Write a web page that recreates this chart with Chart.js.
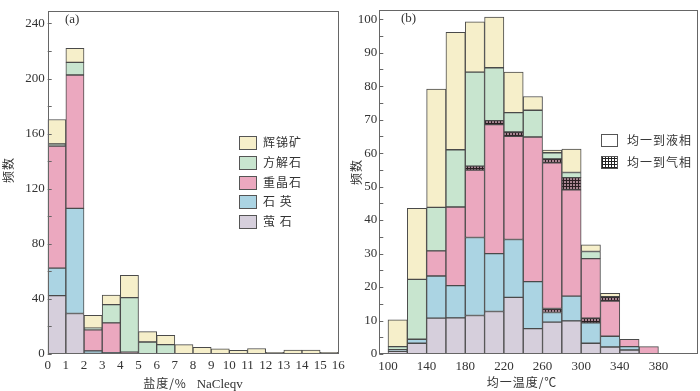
<!DOCTYPE html>
<html>
<head>
<meta charset="utf-8">
<script src="https://cdn.jsdelivr.net/npm/chart.js@4.4.1/dist/chart.umd.min.js"></script>
<style>
  html, body { margin: 0; padding: 0; background: #fff; }
  #wrap { position: relative; width: 700px; height: 391px; overflow: hidden;
          font-family: "Liberation Serif", "Noto Sans CJK SC", serif; color: #333; }
  .pane { position: absolute; top: 0; height: 391px; }
  .txt { position: absolute; white-space: nowrap; font-size: 13px; line-height: 1; }
  .cjk { font-family: "Noto Sans CJK SC", sans-serif; letter-spacing: 1px; font-size: 12px; }
  .box { position: absolute; border: 1px solid #555; box-sizing: border-box; }
  .vt { transform: translate(-50%, -50%) rotate(-90deg); }
</style>
</head>
<body>
<div id="wrap">
  <div class="pane" style="left:0;width:350px"><canvas id="chartA"></canvas></div>
  <div class="pane" style="left:350px;width:350px"><canvas id="chartB"></canvas></div>
</div>
<script>
// ============================================================
// Data — panel (a): salinity histogram, panel (b): Th histogram
// ============================================================
var salinityBins = [0, 1, 2, 3, 4, 5, 6, 7, 8, 9, 10, 11, 12, 13, 14, 15];
var salinityWidth = 1;
var fluoriteA  = [42.4, 29.4, 0.5, 0.5, 0, 0, 0, 0, 0, 0, 0, 0, 0, 0, 0, 0];
var quartzA    = [19.9, 76.3, 1.8, 0.5, 0, 0, 0, 0, 0, 0, 0, 0, 0, 0, 0, 0];
var bariteA    = [88.7, 96.9, 15.3, 21.6, 1.4, 0, 0, 0, 0, 0, 0, 0, 0, 0, 0, 0];
var calciteA   = [1.5, 9.2, 1.2, 13.2, 39.5, 8.7, 6.8, 0, 0, 0, 0, 0, 0, 0, 0, 0];
var stibniteA  = [17.8, 10.1, 9.2, 7.0, 16.3, 7.5, 6.8, 6.8, 4.9, 3.8, 2.6, 4.0, 1.2, 2.8, 2.8, 1.2];
var yTicksA    = [0, 40, 80, 120, 160, 200, 240];

var tempBins = [100, 120, 140, 160, 180, 200, 220, 240, 260, 280, 300, 320, 340, 360];
var tempWidth = 20;
var fluoriteB   = [0.8, 3.2, 10.7, 10.8, 11.5, 12.7, 16.9, 7.6, 9.5, 9.9, 3.2, 2.1, 1.2, 0];
var quartzB     = [0.5, 1.2, 12.6, 9.6, 23.3, 17.3, 17.3, 14.0, 2.9, 7.4, 6.1, 3.2, 1.0, 0];
var quartzVapB  = [0, 0, 0, 0, 0, 0, 0, 0, 1.2, 0, 1.4, 0, 0, 0];
var bariteB     = [0, 0, 7.5, 23.5, 20.1, 38.5, 30.8, 43.2, 43.5, 31.7, 17.8, 10.5, 2.2, 2.2];
var bariteVapB  = [0, 0, 0, 0, 1.2, 1.2, 1.3, 0, 1.2, 3.7, 0, 1.3, 0, 0];
var calciteB    = [0.9, 17.9, 13.0, 17.1, 28.1, 15.8, 5.8, 8.0, 1.8, 1.5, 2.1, 0, 0, 0];
var stibniteB   = [8.0, 21.2, 35.3, 35.1, 15.0, 15.1, 12.1, 4.1, 0.8, 7.0, 2.0, 1.0, 0, 0];
var yTicksB     = [0, 10, 20, 30, 40, 50, 60, 70, 80, 90, 100];
var xTicksB     = [100, 140, 180, 220, 260, 300, 340, 380];

var mineralNames = ['辉锑矿', '方解石', '重晶石', '石 英', '萤 石'];
var phaseNames = ['均一到液相', '均一到气相'];

// Colours
var COLORS = {
  stibnite: '#f6efca',
  calcite: '#c8e5cf',
  barite: '#eba8bf',
  quartz: '#abd4e3',
  fluorite: '#d6cfdc',
  edge: '#4a4a4a',
  frame: '#666666',
  text: '#333333'
};

// small cross-hatch tile for the vapour-homogenised inclusions
function hatchPattern() {
  var c = document.createElement('canvas');
  c.width = 3; c.height = 3;
  var g = c.getContext('2d');
  g.fillStyle = '#a88592';
  g.fillRect(0, 0, 3, 3);
  g.fillStyle = '#2a1e22';
  g.fillRect(0, 0, 3, 1);
  g.fillRect(0, 0, 1, 3);
  return g.createPattern(c, 'repeat');
}

function toPoints(bins, width, values) {
  return bins.map(function(b, i) {
    return { x: b + width / 2, y: values[i] > 0 ? values[i] : null };
  });
}

function barSet(label, bins, width, values, color) {
  return {
    label: label,
    data: toPoints(bins, width, values),
    backgroundColor: color,
    borderColor: COLORS.edge,
    borderWidth: 1,
    borderSkipped: false,
    barPercentage: 1,
    categoryPercentage: 1
  };
}

// frame + inward minor ticks on the y axis
var frameTicks = {
  id: 'frameTicks',
  afterDraw: function(chart, args, opts) {
    var ctx = chart.ctx, a = chart.chartArea, y = chart.scales.y;
    ctx.save();
    ctx.strokeStyle = COLORS.frame;
    ctx.lineWidth = 1;
    ctx.strokeRect(Math.round(a.left) + 0.5, Math.round(a.top) + 0.5,
                   Math.round(a.right - a.left) - 1, Math.round(a.bottom - a.top) - 1);
    ctx.beginPath();
    for (var v = 0; v <= opts.last; v += opts.step) {
      var py = Math.round(y.getPixelForValue(v)) + 0.5;
      ctx.moveTo(a.left, py);
      ctx.lineTo(a.left + 4, py);
    }
    ctx.stroke();
    ctx.restore();
  }
};

Chart.defaults.font.family = "'Liberation Serif', 'Noto Sans CJK SC', serif";
Chart.defaults.font.size = 13;
Chart.defaults.color = COLORS.text;

function baseOptions(xMin, xMax, xTickList, yMax, yTickList, yWidth, padRight, tickStep, xPad) {
  return {
    responsive: true,
    maintainAspectRatio: false,
    animation: false,
    layout: { padding: { top: 1, right: padRight, bottom: 0, left: 0 } },
    plugins: {
      legend: { display: false },
      tooltip: { enabled: false },
      frameTicks: { step: tickStep, last: yMax }
    },
    scales: {
      x: {
        type: 'linear',
        stacked: true,
        offset: false,
        min: xMin,
        max: xMax,
        grid: { display: false, drawTicks: false },
        border: { display: false },
        afterBuildTicks: function(s) { s.ticks = xTickList.map(function(v) { return { value: v }; }); },
        afterFit: function(s) { s.height = 37; },
        ticks: { padding: xPad, maxRotation: 0, autoSkip: false }
      },
      y: {
        stacked: true,
        min: 0,
        max: yMax,
        grid: { display: false, drawTicks: false },
        border: { display: false },
        afterBuildTicks: function(s) { s.ticks = yTickList.map(function(v) { return { value: v }; }); },
        afterFit: function(s) { s.width = yWidth; },
        ticks: { padding: 3 }
      }
    }
  };
}

// ============================================================
// Panel (a)
// ============================================================
new Chart(document.getElementById('chartA'), {
  type: 'bar',
  data: {
    datasets: [
      barSet('萤石', salinityBins, salinityWidth, fluoriteA, COLORS.fluorite),
      barSet('石英', salinityBins, salinityWidth, quartzA, COLORS.quartz),
      barSet('重晶石', salinityBins, salinityWidth, bariteA, COLORS.barite),
      barSet('方解石', salinityBins, salinityWidth, calciteA, COLORS.calcite),
      barSet('辉锑矿', salinityBins, salinityWidth, stibniteA, COLORS.stibnite)
    ]
  },
  options: (function() {
    var o = baseOptions(0, 16, salinityBins.concat([16]), 249.2, yTicksA, 47.7, 11.7, 20, 4);
    o.plugins.frameTicks.last = 240;
    return o;
  })(),
  plugins: [frameTicks]
});

// ============================================================
// Panel (b)
// ============================================================
var hatch = hatchPattern();
new Chart(document.getElementById('chartB'), {
  type: 'bar',
  data: {
    datasets: [
      barSet('萤石', tempBins, tempWidth, fluoriteB, COLORS.fluorite),
      barSet('石英', tempBins, tempWidth, quartzB, COLORS.quartz),
      barSet('石英 气相', tempBins, tempWidth, quartzVapB, hatch),
      barSet('重晶石', tempBins, tempWidth, bariteB, COLORS.barite),
      barSet('重晶石 气相', tempBins, tempWidth, bariteVapB, hatch),
      barSet('方解石', tempBins, tempWidth, calciteB, COLORS.calcite),
      barSet('辉锑矿', tempBins, tempWidth, stibniteB, COLORS.stibnite)
    ]
  },
  options: (function() {
    var o = baseOptions(91, 421.5, xTicksB, 102.8, yTicksB, 29.3, 1.5, 5, 5);
    o.plugins.frameTicks.last = 100;
    o.scales.y.ticks.padding = 2;
    return o;
  })(),
  plugins: [frameTicks]
});

// ============================================================
// Legends, panel tags and axis titles (HTML text)
// ============================================================
var wrap = document.getElementById('wrap');
function addText(html, cls, css) {
  var d = document.createElement('div');
  d.className = 'txt ' + (cls || '');
  d.innerHTML = html;
  d.style.cssText = css;
  wrap.appendChild(d);
  return d;
}
function addBox(css) {
  var d = document.createElement('div');
  d.className = 'box';
  d.style.cssText = css;
  wrap.appendChild(d);
}

var legendColorsA = [COLORS.stibnite, COLORS.calcite, COLORS.barite, COLORS.quartz, COLORS.fluorite];
mineralNames.forEach(function(name, i) {
  var cy = 143 + i * 19.8;
  addBox('left:239px;top:' + (cy - 7) + 'px;width:18px;height:14px;background:' + legendColorsA[i]);
  addText(name, 'cjk', 'left:263px;top:' + (cy - 7) + 'px;');
});

phaseNames.forEach(function(name, i) {
  var cy = 140.5 + i * 22;
  addBox('left:601px;top:' + (cy - 6.5) + 'px;width:17px;height:13px;background:' +
    (i === 0 ? '#fff' : 'repeating-linear-gradient(90deg,#222 0 1px,transparent 1px 3px),repeating-linear-gradient(0deg,#222 0 1px,#fff 1px 3px)'));
  addText(name, 'cjk', 'left:627px;top:' + (cy - 7) + 'px;');
});

addText('(a)', '', 'left:65px;top:12px;');
addText('(b)', '', 'left:401px;top:11px;');

addText('<span class="cjk" style="font-size:12px">盐度/%</span>&nbsp;&nbsp; NaCleqv', '',
        'left:193px;top:377px;transform:translateX(-50%);');
addText('<span class="cjk" style="font-size:12px">均一温度/℃</span>', '',
        'left:522px;top:376px;transform:translateX(-50%);');
addText('频数', 'cjk vt', 'left:8px;top:170px;');
addText('频数', 'cjk vt', 'left:356px;top:172px;');
</script>
</body>
</html>
